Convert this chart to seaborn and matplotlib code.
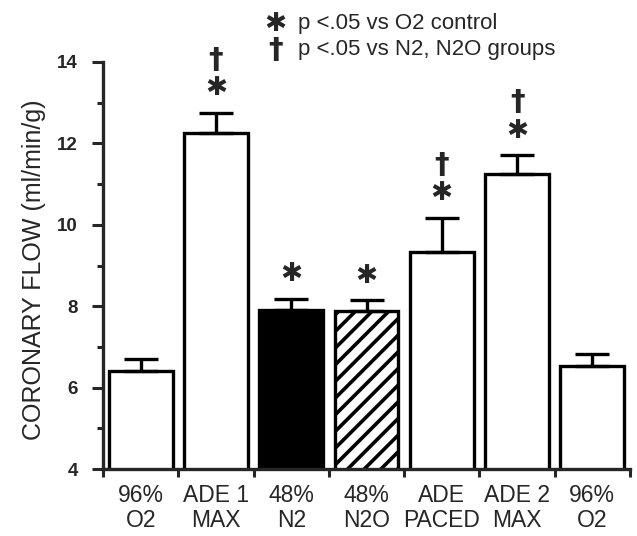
import numpy as np
import pandas as pd
import seaborn as sns
import matplotlib.pyplot as plt

# data
groups = ["O2 control", "ADE 1 MAX", "N2", "N2O", "ADE PACED", "ADE 2 MAX", "O2 recovery"]
tick_labels = ["96%\nO2", "ADE 1\nMAX", "48%\nN2", "48%\nN2O", "ADE\nPACED", "ADE 2\nMAX", "96%\nO2"]
flow = [6.41, 12.26, 7.91, 7.88, 9.33, 11.25, 6.53]
sem = [0.29, 0.49, 0.27, 0.27, 0.84, 0.46, 0.30]
star = [False, True, True, True, True, True, False]
dagger = [False, True, False, False, True, True, False]
fills = ["white", "white", "black", "white", "white", "white", "white"]

sns.set_style("ticks")
plt.rcParams["font.family"] = ["Liberation Sans", "DejaVu Sans"]
plt.rcParams["hatch.linewidth"] = 2.6

df = pd.DataFrame({"group": groups, "flow": flow})

fig = plt.figure(figsize=(6.37, 5.36), dpi=100)
ax = fig.add_axes([103/637, 1 - 469/536, 527/637, 407/536])

sns.barplot(data=df, x="group", y="flow", hue="group", order=groups,
            palette=dict(zip(groups, fills)), edgecolor="black", linewidth=2.4,
            width=0.85, legend=False, ax=ax)
ax.patches[3].set_hatch("//")

# upward error bars only
xs = np.arange(len(groups))
ax.errorbar(xs, flow, yerr=[np.zeros(len(sem)), sem], fmt="none", ecolor="black",
            elinewidth=2.4, capsize=12, capthick=2.4, zorder=1)

star_font = dict(family=["DejaVu Sans"], fontweight="bold", fontsize=19)
dag_font = dict(family=["DejaVu Sans"], fontweight="bold", fontsize=21)

# significance marks
for i in range(len(groups)):
    top = flow[i] + sem[i]
    if star[i]:
        ax.text(i, top + 0.6, "\u2731", ha="center", va="center", clip_on=False, **star_font)
    if dagger[i]:
        ax.text(i, top + 1.3, "\u2020", ha="center", va="center", clip_on=False, **dag_font)

ax.set_ylim(4, 14)
ax.set_xlim(-0.5, 6.5)
ax.set_yticks([4, 6, 8, 10, 12, 14])
ax.set_yticks([5, 7, 9, 11, 13], minor=True)
ax.set_xticks(xs)
ax.set_xticks(np.arange(-0.5, 7, 1), minor=True)
ax.set_xticklabels(tick_labels, fontsize=16.5, linespacing=1.12)
ax.tick_params(axis="x", which="major", length=0, pad=11)
ax.tick_params(axis="x", which="minor", length=6, width=2.2)
ax.tick_params(axis="y", which="major", length=8, width=2.2, labelsize=13.5, pad=10)
ax.tick_params(axis="y", which="minor", length=4, width=2.2)
for lab in ax.get_yticklabels():
    lab.set_fontweight("bold")

ax.set_xlabel("")
ax.set_ylabel("CORONARY FLOW (ml/min/g)", fontsize=18)
ax.yaxis.set_label_coords(-0.108, 0.49)

for s in ["top", "right"]:
    ax.spines[s].set_visible(False)
for s in ["left", "bottom"]:
    ax.spines[s].set_linewidth(2.4)

# key at the top
fig.text(275/637, 1 - 24/536, "\u2731", ha="center", va="center", **star_font)
fig.text(298/637, 1 - 24/536, "p <.05 vs O2 control", ha="left", va="center", fontsize=16)
fig.text(276/637, 1 - 50/536, "\u2020", ha="center", va="center", **dag_font)
fig.text(298/637, 1 - 50/536, "p <.05 vs N2, N2O groups", ha="left", va="center", fontsize=16)

fig.savefig("out.png", dpi=100)
